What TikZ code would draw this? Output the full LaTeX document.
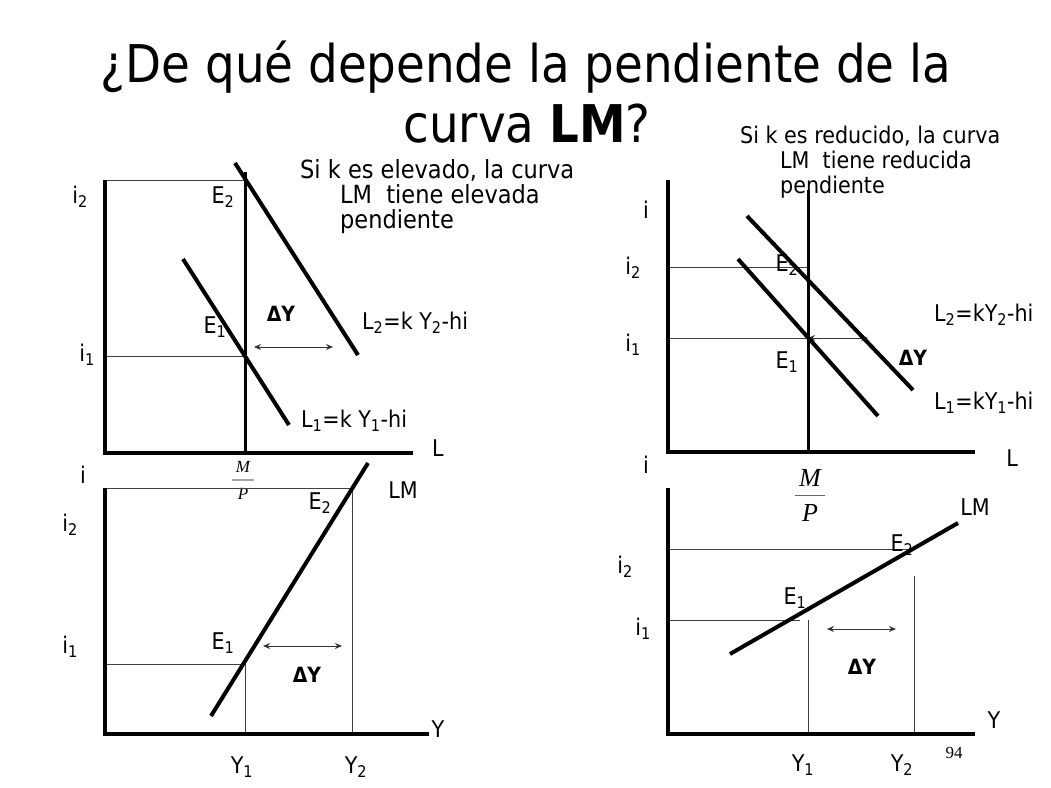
\documentclass[tikz,border=0pt]{standalone}
\usepackage{fontspec}
\setmainfont{DejaVu Sans Condensed}
\newfontfamily\seriffam{Liberation Serif}
\usetikzlibrary{arrows.meta}
\tikzset{
  axisln/.style={line width=4pt},
  curveln/.style={line width=4pt},
  mpln/.style={line width=3pt},
  guide/.style={line width=1pt, black!75},
  dbl/.style={{Stealth[length=7pt,width=6pt]}-{Stealth[length=7pt,width=6pt]}, line width=1pt, black!80},
  lbl/.style={inner sep=0pt, font=\fontsize{23}{27}\selectfont},
  dlt/.style={inner sep=0pt, font=\fontsize{21}{25}\selectfont\bfseries},
  note/.style={inner sep=0pt, anchor=base west, font=\fontsize{25}{29}\selectfont},
  frac/.style={inner sep=0pt, font=\seriffam\itshape},
}
\begin{document}
\begin{tikzpicture}[x=1pt,y=-1pt]
\useasboundingbox (0,0) rectangle (1051,787);
% Title
\node[inner sep=0pt, anchor=base, font=\fontsize{52}{58}\selectfont] (t1) at (526,82) {¿De qué depende la pendiente de la};
\node[inner sep=0pt, anchor=base, font=\fontsize{52}{58}\selectfont] (t2) at (527,142) {curva \textbf{LM}?};
% Notes
\node[note] (n1a) at (300,178) {Si k es elevado, la curva};
\node[note] (n1b) at (340,203) {LM\ \ tiene elevada};
\node[note] (n1c) at (340,228) {pendiente};
\node[note, font=\fontsize{23}{27}\selectfont] (n2a) at (740,143) {Si k es reducido, la curva};
\node[note, font=\fontsize{23}{27}\selectfont] (n2b) at (780,168) {LM\ \ tiene reducida};
\node[note, font=\fontsize{23}{27}\selectfont] (n2c) at (780,193) {pendiente};

% ---------- Top-left panel ----------
\coordinate (tlO) at (105,453);
\coordinate (tlT) at (105,180);
\coordinate (tlE) at (413,453);
\coordinate (tlMt) at (245,172);
\coordinate (tlMb) at (245,453);
\coordinate (tlI2) at (245,180);
\coordinate (tlI1) at (245,356);
\coordinate (tlI1a) at (105,356);
\coordinate (tlL2a) at (235,163);
\coordinate (tlL2b) at (358,355);
\coordinate (tlL1a) at (183,259);
\coordinate (tlL1b) at (289,425);
\coordinate (tlAa) at (254,347);
\coordinate (tlAb) at (333,347);
\draw[guide] (tlT) -- (tlI2);
\draw[guide] (tlI1a) -- (tlI1);
\draw[axisln] (tlT) -- (tlO) -- (tlE);
\draw[mpln] (tlMt) -- (tlMb);
\draw[curveln] (tlL2a) -- (tlL2b);
\draw[curveln] (tlL1a) -- (tlL1b);
\draw[dbl] (tlAa) -- (tlAb);
\node[lbl] (tli2) at (80,197) {i\textsubscript{2}};
\node[lbl] (tli1) at (87,355) {i\textsubscript{1}};
\node[lbl] (tlE2) at (223,197) {E\textsubscript{2}};
\node[lbl] (tlE1) at (215,327) {E\textsubscript{1}};
\node[dlt] (tlD) at (281,314) {ΔY};
\node[lbl, anchor=west] (tlL2) at (362,323) {L\textsubscript{2}=k Y\textsubscript{2}-hi};
\node[lbl, anchor=west] (tlL1) at (301,421) {L\textsubscript{1}=k Y\textsubscript{1}-hi};
\node[lbl] (tlL) at (438,448) {L};
% small M/P
\node[frac, font=\seriffam\itshape\fontsize{17}{19}\selectfont] (smM) at (243,467) {M};
\coordinate (smBa) at (232,480);
\coordinate (smBb) at (254,480);
\draw[line width=1.5pt, black!35] (smBa) -- (smBb);
\node[frac, font=\seriffam\itshape\fontsize{17}{19}\selectfont] (smP) at (243,494) {P};

% ---------- Bottom-left panel ----------
\coordinate (blO) at (105,734);
\coordinate (blT) at (105,488);
\coordinate (blE) at (429,734);
\coordinate (blI2) at (352,488);
\coordinate (blY2) at (352,734);
\coordinate (blI1a) at (105,664);
\coordinate (blI1) at (245,664);
\coordinate (blY1) at (245,734);
\coordinate (blLa) at (211,716);
\coordinate (blLb) at (368,463);
\coordinate (blAa) at (263,646);
\coordinate (blAb) at (342,646);
\draw[guide] (blT) -- (blI2) -- (blY2);
\draw[guide] (blI1a) -- (blI1) -- (blY1);
\draw[axisln] (blT) -- (blO) -- (blE);
\draw[curveln] (blLa) -- (blLb);
\draw[dbl] (blAa) -- (blAb);
\node[lbl] (bli) at (83,475) {i};
\node[lbl] (bli2) at (70,525) {i\textsubscript{2}};
\node[lbl] (bli1) at (70,647) {i\textsubscript{1}};
\node[lbl] (blE2) at (320,503) {E\textsubscript{2}};
\node[lbl] (blE1) at (223,643) {E\textsubscript{1}};
\node[lbl] (blLM) at (403,490) {LM};
\node[dlt] (blD) at (307,675) {ΔY};
\node[lbl] (blY) at (438,729) {Y};
\node[lbl] (blY1l) at (242,767) {Y\textsubscript{1}};
\node[lbl] (blY2l) at (356,767) {Y\textsubscript{2}};

% ---------- Top-right panel ----------
\coordinate (trO) at (668,452);
\coordinate (trT) at (668,180);
\coordinate (trE) at (975,452);
\coordinate (trMt) at (808,190);
\coordinate (trMb) at (808,452);
\coordinate (trI2a) at (668,267);
\coordinate (trI2) at (808,267);
\coordinate (trI1a) at (668,338);
\coordinate (trI1) at (808,338);
\coordinate (trAb) at (868,338);
\coordinate (trL2a) at (747,216);
\coordinate (trL2b) at (913,390);
\coordinate (trL1a) at (738,259);
\coordinate (trL1b) at (878,416);
\draw[guide] (trI2a) -- (trI2);
\draw[guide] (trI1a) -- (trI1);
\draw[dbl] (trI1) -- (trAb);
\draw[axisln] (trT) -- (trO) -- (trE);
\draw[mpln] (trMt) -- (trMb);
\draw[curveln] (trL2a) -- (trL2b);
\draw[curveln] (trL1a) -- (trL1b);
\node[lbl] (tri) at (646,210) {i};
\node[lbl] (tri2) at (633,268) {i\textsubscript{2}};
\node[lbl] (tri1) at (633,345) {i\textsubscript{1}};
\node[lbl] (trE2) at (787,265) {E\textsubscript{2}};
\node[lbl] (trE1) at (787,362) {E\textsubscript{1}};
\node[dlt] (trD) at (913,358) {ΔY};
\node[lbl, anchor=west] (trL2) at (934,315) {L\textsubscript{2}=kY\textsubscript{2}-hi};
\node[lbl, anchor=west] (trL1) at (934,403) {L\textsubscript{1}=kY\textsubscript{1}-hi};
\node[lbl] (trL) at (1012,458) {L};
% big M/P
\node[frac, font=\seriffam\itshape\fontsize{26}{28}\selectfont] (bgM) at (810,478) {M};
\coordinate (bgBa) at (795,495);
\coordinate (bgBb) at (825,495);
\draw[line width=1pt, black!60] (bgBa) -- (bgBb);
\node[frac, font=\seriffam\itshape\fontsize{26}{28}\selectfont] (bgP) at (810,513) {P};

% ---------- Bottom-right panel ----------
\coordinate (brO) at (668,734);
\coordinate (brT) at (668,488);
\coordinate (brE) at (975,734);
\coordinate (brI2a) at (668,549);
\coordinate (brI2) at (910,549);
\coordinate (brY2t) at (914,576);
\coordinate (brY2) at (914,734);
\coordinate (brI1a) at (668,620);
\coordinate (brI1) at (800,620);
\coordinate (brY1t) at (808,620);
\coordinate (brY1) at (808,734);
\coordinate (brLa) at (730,654);
\coordinate (brLb) at (958,523);
\coordinate (brAa) at (827,629);
\coordinate (brAb) at (896,629);
\draw[guide] (brI2a) -- (brI2);
\draw[guide] (brY2t) -- (brY2);
\draw[guide] (brI1a) -- (brI1);
\draw[guide] (brY1t) -- (brY1);
\draw[axisln] (brT) -- (brO) -- (brE);
\draw[curveln] (brLa) -- (brLb);
\draw[dbl] (brAa) -- (brAb);
\node[lbl] (bri) at (646,465) {i};
\node[lbl] (bri2) at (625,567) {i\textsubscript{2}};
\node[lbl] (bri1) at (643,629) {i\textsubscript{1}};
\node[lbl] (brE1) at (795,598) {E\textsubscript{1}};
\node[lbl] (brE2) at (902,545) {E\textsubscript{2}};
\node[lbl] (brLM) at (975,507) {LM};
\node[dlt] (brD) at (862,667) {ΔY};
\node[lbl] (brY) at (994,720) {Y};
\node[lbl] (brY1l) at (803,765) {Y\textsubscript{1}};
\node[lbl] (brY2l) at (902,765) {Y\textsubscript{2}};
\node[inner sep=0pt, font=\seriffam\fontsize{17}{19}\selectfont] (pg) at (954,753) {94};
\end{tikzpicture}
\end{document}
